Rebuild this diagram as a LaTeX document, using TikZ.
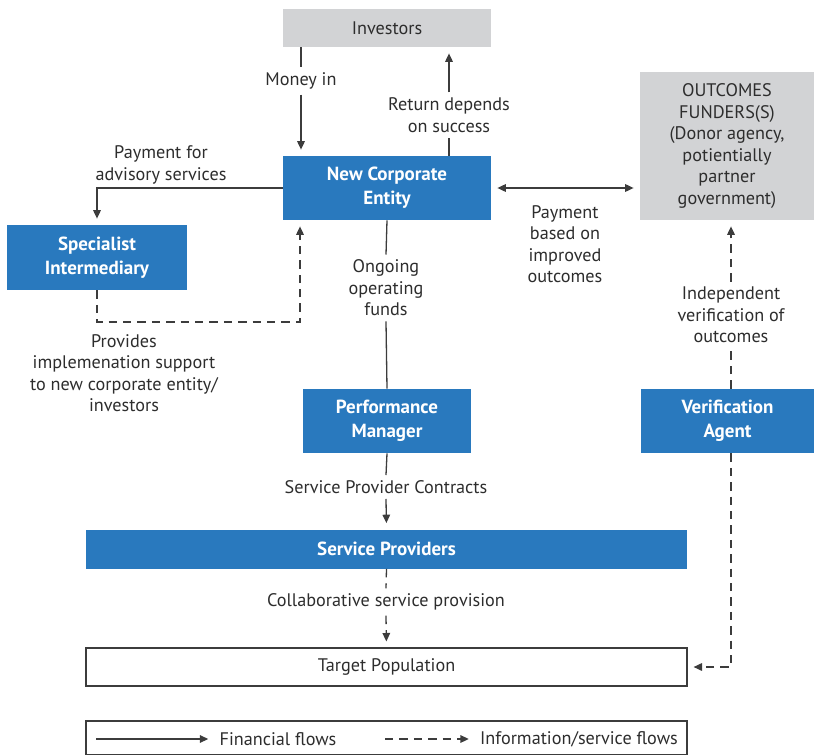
\documentclass[tikz,border=0pt]{standalone}
\usepackage{fontspec}
\setmainfont{PT Sans}
\usetikzlibrary{arrows.meta}
\definecolor{boxblue}{RGB}{41,121,190}
\definecolor{boxgray}{RGB}{210,211,213}
\definecolor{linegray}{RGB}{60,60,60}
\definecolor{txtgray}{RGB}{45,45,45}
\begin{document}
\begin{tikzpicture}[x=0.5pt,y=-0.5pt,
  font=\fontsize{9.1}{10.75}\selectfont,
  blue/.style={fill=boxblue,text=white,font=\fontsize{9.5}{12}\selectfont\bfseries,align=center,inner sep=0pt},
  grey/.style={fill=boxgray,text=txtgray,align=center,inner sep=0pt},
  plain/.style={draw=linegray,line width=0.6pt,text=txtgray,inner sep=0pt},
  lbl/.style={text=txtgray,align=center,inner sep=2.5pt},
  fin/.style={draw=linegray,line width=0.65pt,-{Triangle[length=4.2pt,width=3.8pt]},shorten >=3pt},
  info/.style={fin,dash pattern=on 4.2pt off 3pt},
  finline/.style={draw=linegray,line width=0.65pt},
  infoline/.style={finline,dash pattern=on 4.2pt off 3pt}]
\useasboundingbox (0,0) rectangle (814,755);
% boxes
\node[grey,minimum width=104pt,minimum height=19pt] (inv) at (387,28) {Investors};
\node[blue,minimum width=104pt,minimum height=32pt] (nce) at (387,188) {New Corporate\\Entity};
\node[blue,minimum width=90pt,minimum height=32.5pt] (spec) at (97,257.5) {Specialist\\Intermediary};
\node[grey,minimum width=87pt,minimum height=74pt] (out) at (727,146) {OUTCOMES\\FUNDERS(S)\\(Donor agency,\\potientially\\partner\\government)};
\node[blue,minimum width=84pt,minimum height=32pt] (pm) at (387,421) {Performance\\Manager};
\node[blue,minimum width=86.5pt,minimum height=32pt] (ver) at (727.5,421) {Verification\\Agent};
\node[blue,minimum width=300.5pt,minimum height=19.5pt] (sp) at (386.5,549) {Service Providers};
\node[plain,minimum width=300.5pt,minimum height=19pt] (tp) at (386.5,667) {Target Population};
% labels
\node[lbl] (money) at (301,81) {Money in};
\node[lbl] (ret) at (449,115) {Return depends\\on success};
\node[lbl] (adv) at (161,165) {Payment for\\advisory services};
\node[lbl] (prov) at (124,373) {Provides\\implemenation support\\to new corporate entity/\\investors};
\node[lbl] (ong) at (386,288) {Ongoing\\operating\\funds};
\node[lbl] (pay) at (565,244) {Payment\\based on\\improved\\outcomes};
\node[lbl] (ind) at (731,315) {Independent\\verification of\\outcomes};
\node[lbl] (spc) at (386,487) {Service Provider Contracts};
\node[lbl] (col) at (386,602) {Collaborative service provision};
\coordinate (pv) at (300,322);
% flows
\draw [finline] (inv.south -| money) -- (money.north);
\draw [fin] (money.south) -- (nce.north -| money);
\draw [finline] (nce.north -| ret) -- (ret.south);
\draw [fin] (ret.north) -- (inv.south -| ret);
\draw [fin] (nce.west) -| (spec.north);
\draw [info] (spec.south) |- (pv) -- (nce.south -| pv);
\draw [finline] (nce.south) -- (ong.north);
\draw [finline] (ong.south) -- (pm.north);
\draw [fin,{Triangle[length=4.2pt,width=3.8pt]}-{Triangle[length=4.2pt,width=3.8pt]},shorten <=3pt] (nce.east) -- (out.west |- nce.east);
\draw [infoline] (ver.north -| ind) -- (ind.south);
\draw [info] (ind.north) -- (out.south -| ind);
\draw [info] (ver.south -| ind) |- (tp.east);
\draw [finline] (pm.south) -- (spc.north);
\draw [fin] (spc.south) -- (sp.north);
\draw [infoline] (sp.south) -- (col.north);
\draw [info] (col.south) -- (tp.north);
% legend
\node[plain,minimum width=300.5pt,minimum height=17pt] (leg) at (386.5,738) {};
\coordinate (f1) at (96,739);
\node[lbl] (ff) at (278,739) {Financial flows};
\coordinate (i1) at (385,739);
\node[lbl] (isf) at (579,739) {Information/service flows};
\draw [fin] (f1) -- (ff.west);
\draw [info] (i1) -- (isf.west);
\end{tikzpicture}
\end{document}
